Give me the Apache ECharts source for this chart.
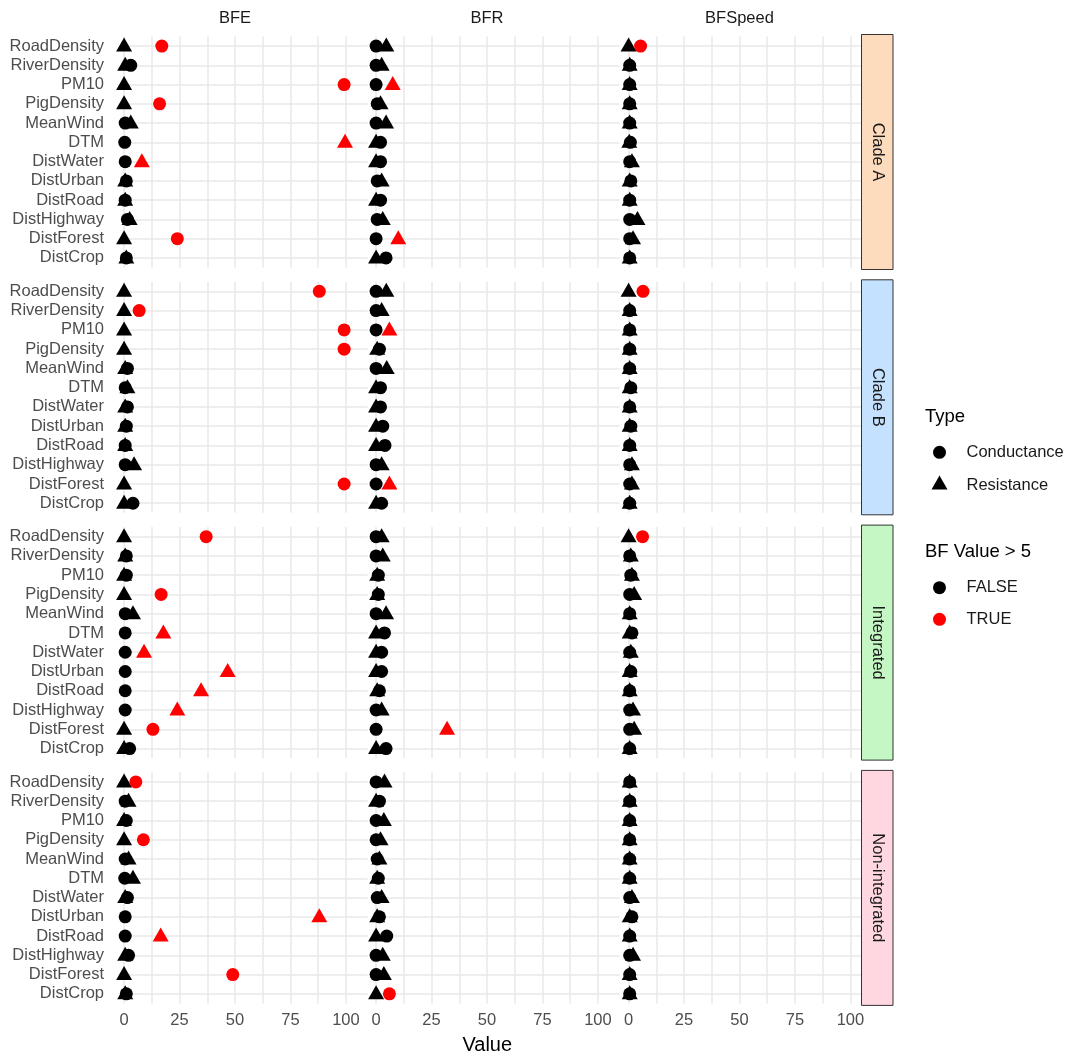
<!DOCTYPE html>
<html>
<head>
<meta charset="utf-8">
<title>BF values by landscape variable</title>
<script src="https://cdn.jsdelivr.net/npm/echarts@6/dist/echarts.min.js"></script>
<style>
  html, body { margin: 0; padding: 0; background: #ffffff; }
  #chart { width: 1077px; height: 1056px; }
</style>
</head>
<body>
<div id="chart"></div>
<script>
// ---- categories and facets ----
const variables = ['RoadDensity', 'RiverDensity', 'PM10', 'PigDensity', 'MeanWind', 'DTM',
  'DistWater', 'DistUrban', 'DistRoad', 'DistHighway', 'DistForest', 'DistCrop'];
const measures = ['BFE', 'BFR', 'BFSpeed'];
const groups = ['Clade A', 'Clade B', 'Integrated', 'Non-integrated'];
const stripColors = ['#FDDBBD', '#C4E1FF', '#C4F7C4', '#FFD7E1'];
const xTickLabels = [0, 25, 50, 75, 100];
const xGridValues = [0, 12.5, 25, 37.5, 50, 62.5, 75, 87.5, 100];
const bfThreshold = 5;

// ---- values (same variable order as above) ----
const cladeA_BFE_conductance = [17, 3, 99.2, 16, 0.5, 0.3, 0.5, 1, 0.5, 1.5, 24, 1];
const cladeA_BFE_resistance = [0, 0.5, 0, 0, 3, 99.6, 8, 0.5, 0.5, 2.5, 0, 1];
const cladeA_BFR_conductance = [0, 0, 0, 0.5, 0, 2, 2, 0.5, 2, 0.5, 0, 4.5];
const cladeA_BFR_resistance = [4.6, 2.5, 7.5, 2, 4.5, 0, 0, 2.5, 0, 3, 10, 0];
const cladeA_BFSpeed_conductance = [5.4, 0.5, 0.5, 0.5, 0.5, 0.8, 0.5, 1, 0.5, 0.5, 0.5, 0.5];
const cladeA_BFSpeed_resistance = [0, 0.5, 0.5, 0.5, 0.5, 0.3, 1.5, 0.5, 0.5, 4, 2, 0.5];

const cladeB_BFE_conductance = [88, 6.8, 99.2, 99.2, 1.5, 0.5, 1.5, 1, 0.5, 0.5, 99.2, 4];
const cladeB_BFE_resistance = [0, 0, 0, 0, 0.5, 1.5, 0.5, 0.5, 0.5, 4.5, 0, 0];
const cladeB_BFR_conductance = [0, 0, 0, 1.5, 0, 2, 2, 3, 4, 0, 0, 2.5];
const cladeB_BFR_resistance = [4.6, 2.5, 6, 0.5, 4.8, 0, 0, 0, 0, 2.5, 6, 0];
const cladeB_BFSpeed_conductance = [6.5, 0.5, 0.5, 0.5, 0.5, 1, 0.5, 1, 0.5, 0.5, 0.5, 0.5];
const cladeB_BFSpeed_resistance = [0, 0.5, 0.5, 0.5, 0.5, 0.5, 0.5, 0.5, 0.5, 1.5, 1.5, 0.5];

const integrated_BFE_conductance = [37, 1, 1, 16.7, 0.5, 0.5, 0.5, 0.5, 0.5, 0.5, 13, 2.5];
const integrated_BFE_resistance = [0, 0.5, 0, 0, 4, 17.7, 9, 46.7, 34.7, 24, 0, 0];
const integrated_BFR_conductance = [0, 0, 1, 1, 0, 3.8, 2.5, 2.5, 1.5, 0, 0, 4.5];
const integrated_BFR_resistance = [2.5, 3, 0.5, 0.5, 4.5, 0, 0, 0, 0.5, 2.5, 32, 0];
const integrated_BFSpeed_conductance = [6.3, 0.5, 1, 0.5, 0.5, 1.5, 0.5, 1, 0.5, 0.5, 0.5, 0.5];
const integrated_BFSpeed_resistance = [0, 1, 1.5, 2.5, 0.5, 0.5, 1, 0.5, 0.5, 2, 2.5, 0.5];

const nonIntegrated_BFE_conductance = [5.3, 0.5, 1, 8.7, 0.5, 0.3, 1.5, 0.5, 0.5, 2, 49, 1];
const nonIntegrated_BFE_resistance = [0, 2, 0, 0, 2, 4, 0.5, 88, 16.5, 0.5, 0, 0.5];
const nonIntegrated_BFR_conductance = [0, 1.5, 0, 0, 0.5, 1, 0.5, 1.5, 4.8, 0, 0, 6];
const nonIntegrated_BFR_resistance = [3.8, 0, 3.5, 2, 1.5, 0.5, 2.5, 0.5, 0, 3, 3.5, 0];
const nonIntegrated_BFSpeed_conductance = [0.5, 0.5, 0.5, 0.5, 0.5, 0.5, 0.5, 1.5, 0.5, 0.5, 0.5, 0.5];
const nonIntegrated_BFSpeed_resistance = [0.5, 0.5, 0.5, 0.5, 0.5, 0.5, 1.5, 0.5, 0.5, 2, 0.5, 0.5];

const panelValues = {
  'Clade A': {
    BFE: { Conductance: cladeA_BFE_conductance, Resistance: cladeA_BFE_resistance },
    BFR: { Conductance: cladeA_BFR_conductance, Resistance: cladeA_BFR_resistance },
    BFSpeed: { Conductance: cladeA_BFSpeed_conductance, Resistance: cladeA_BFSpeed_resistance }
  },
  'Clade B': {
    BFE: { Conductance: cladeB_BFE_conductance, Resistance: cladeB_BFE_resistance },
    BFR: { Conductance: cladeB_BFR_conductance, Resistance: cladeB_BFR_resistance },
    BFSpeed: { Conductance: cladeB_BFSpeed_conductance, Resistance: cladeB_BFSpeed_resistance }
  },
  'Integrated': {
    BFE: { Conductance: integrated_BFE_conductance, Resistance: integrated_BFE_resistance },
    BFR: { Conductance: integrated_BFR_conductance, Resistance: integrated_BFR_resistance },
    BFSpeed: { Conductance: integrated_BFSpeed_conductance, Resistance: integrated_BFSpeed_resistance }
  },
  'Non-integrated': {
    BFE: { Conductance: nonIntegrated_BFE_conductance, Resistance: nonIntegrated_BFE_resistance },
    BFR: { Conductance: nonIntegrated_BFR_conductance, Resistance: nonIntegrated_BFR_resistance },
    BFSpeed: { Conductance: nonIntegrated_BFSpeed_conductance, Resistance: nonIntegrated_BFSpeed_resistance }
  }
};

// ---- layout ----
const FONT = '"Liberation Sans", Arial, Helvetica, sans-serif';
const colLeft = [113, 365, 617.5];
const colWidth = 244;
const rowTop = [34.5, 279.8, 525.1, 770.4];
const rowHeight = 235;
const band = rowHeight / 12.2;          // one category step, 0.6 step padding at each end
const stripLeft = colLeft[2] + colWidth;
const stripWidth = 31.5;
const gridColor = '#E9E9E9';
const textGrey = '#4D4D4D';

const markers = {
  Conductance: { symbol: 'circle', size: 13, offset: [0, 0] },
  Resistance: { symbol: 'triangle', size: [16, 14], offset: [0, -1.5] }
};

const grids = [], xAxes = [], yAxes = [], series = [], graphics = [];

groups.forEach((group, r) => {
  measures.forEach((measure, c) => {
    const idx = grids.length;
    grids.push({
      left: colLeft[c],
      top: rowTop[r] + 0.1 * band,
      width: colWidth,
      height: 12 * band,
      containLabel: false,
      outerBoundsMode: 'none'
    });
    xAxes.push({
      type: 'value',
      gridIndex: idx,
      min: -5,
      max: 105,
      axisLine: { show: false },
      axisTick: { show: false, customValues: xGridValues },
      splitLine: { show: true, lineStyle: { color: gridColor, width: 1.5 } },
      axisLabel: {
        show: r === groups.length - 1,
        customValues: xTickLabels,
        color: textGrey,
        fontSize: 16.5,
        fontFamily: FONT,
        margin: 8
      }
    });
    yAxes.push({
      type: 'category',
      gridIndex: idx,
      data: variables,
      inverse: true,
      axisLine: { show: false },
      splitLine: { show: false },
      // category gridlines run through the middle of each row
      axisTick: {
        show: true,
        interval: 0,
        alignWithLabel: true,
        inside: true,
        length: colWidth - 0.5,
        lineStyle: { color: gridColor, width: 1.5 }
      },
      axisLabel: {
        show: c === 0,
        interval: 0,
        color: textGrey,
        fontSize: 16.5,
        fontFamily: FONT,
        margin: 9
      }
    });

    ['Conductance', 'Resistance'].forEach(type => {
      const vals = panelValues[group][measure][type];
      const m = markers[type];
      [false, true].forEach(flag => {
        const data = [];
        vals.forEach((v, i) => {
          if ((v > bfThreshold) === flag) data.push([v, variables[i]]);
        });
        if (!data.length) return;
        series.push({
          type: 'scatter',
          name: type,
          xAxisIndex: idx,
          yAxisIndex: idx,
          symbol: m.symbol,
          symbolSize: m.size,
          symbolOffset: m.offset,
          itemStyle: { color: flag ? '#FF0000' : '#000000', opacity: 1 },
          data: data,
          z: flag ? 4 : 3,
          silent: true
        });
      });
    });
  });

  // facet strip on the right
  graphics.push({
    type: 'rect',
    z: 100,
    shape: { x: stripLeft, y: rowTop[r], width: stripWidth, height: rowHeight },
    style: { fill: stripColors[r], stroke: '#333333', lineWidth: 1 },
    silent: true
  });
  graphics.push({
    type: 'text',
    z: 101,
    x: stripLeft + stripWidth / 2,
    y: rowTop[r] + rowHeight / 2,
    rotation: -Math.PI / 2,
    style: {
      text: group, font: '16.5px ' + FONT, fill: '#1A1A1A',
      textAlign: 'center', textVerticalAlign: 'middle', align: 'center', verticalAlign: 'middle'
    },
    silent: true
  });
});

// column titles
measures.forEach((measure, c) => {
  graphics.push({
    type: 'text',
    x: colLeft[c] + colWidth / 2,
    y: 18,
    style: {
      text: measure, font: '16.5px ' + FONT, fill: '#1A1A1A',
      textAlign: 'center', textVerticalAlign: 'middle', align: 'center', verticalAlign: 'middle'
    },
    silent: true
  });
});

// x-axis title
graphics.push({
  type: 'text',
  x: (colLeft[0] + colLeft[2] + colWidth) / 2,
  y: 1045,
  style: {
    text: 'Value', font: '20px ' + FONT, fill: '#000000',
    textAlign: 'center', textVerticalAlign: 'middle', align: 'center', verticalAlign: 'middle'
  },
  silent: true
});

// legends
const legendX = 925, keyX = 939.5, labelX = 966.5;
function legendTitle(text, y) {
  graphics.push({
    type: 'text', x: legendX, y: y,
    style: { text: text, font: '18.5px ' + FONT, fill: '#000000',
      textAlign: 'left', textVerticalAlign: 'middle', align: 'left', verticalAlign: 'middle' },
    silent: true
  });
}
function legendLabel(text, y) {
  graphics.push({
    type: 'text', x: labelX, y: y,
    style: { text: text, font: '16.5px ' + FONT, fill: '#1A1A1A',
      textAlign: 'left', textVerticalAlign: 'middle', align: 'left', verticalAlign: 'middle' },
    silent: true
  });
}
function legendCircle(y, color) {
  graphics.push({ type: 'circle', shape: { cx: keyX, cy: y, r: 6.5 }, style: { fill: color }, silent: true });
}
function legendTriangle(y, color) {
  graphics.push({
    type: 'polygon',
    shape: { points: [[keyX - 8, y + 5], [keyX + 8, y + 5], [keyX, y - 9]] },
    style: { fill: color }, silent: true
  });
}

legendTitle('Type', 417);
legendCircle(452.3, '#000000');
legendLabel('Conductance', 452.3);
legendTriangle(484.5, '#000000');
legendLabel('Resistance', 485.5);

legendTitle('BF Value > 5', 551.5);
legendCircle(587.7, '#000000');
legendLabel('FALSE', 587.7);
legendCircle(619.3, '#FF0000');
legendLabel('TRUE', 619.3);

const chart = echarts.init(document.getElementById('chart'), null, { renderer: 'canvas' });
chart.setOption({
  backgroundColor: '#ffffff',
  animation: false,
  textStyle: { fontFamily: FONT },
  grid: grids,
  xAxis: xAxes,
  yAxis: yAxes,
  series: series,
  graphic: { elements: graphics }
});
</script>
</body>
</html>
